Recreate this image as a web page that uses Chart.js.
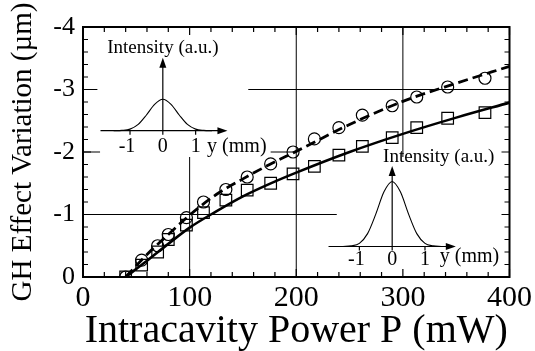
<!DOCTYPE html>
<html>
<head>
<meta charset="utf-8">
<script src="https://cdn.jsdelivr.net/npm/chart.js@4.4.1/dist/chart.umd.min.js"></script>
<style>
  html, body { margin: 0; padding: 0; background: #fff; }
  #wrap { width: 535px; height: 351px; }
</style>
</head>
<body>
<div id="wrap"><canvas id="chart" width="535" height="351"></canvas></div>
<script>
// measured GH shift vs intracavity power (shift is negative, plotted upward)
const powerMw = [40, 55, 70, 80, 97, 113, 134, 154, 176, 197, 217, 240, 262, 290, 313, 342, 377];
const circleShift = [0, -0.27, -0.50, -0.68, -0.95, -1.20, -1.40, -1.60, -1.81, -2.00, -2.21, -2.39, -2.59, -2.74, -2.88, -3.04, -3.18];
const squareShift = [0, -0.19, -0.40, -0.60, -0.83, -1.03, -1.23, -1.39, -1.50, -1.65, -1.77, -1.95, -2.09, -2.23, -2.39, -2.54, -2.63];

// fitted curves
const fitPowerMw = [40, 60, 80, 100, 125, 150, 175, 200, 250, 300, 350, 400];
const dashedFit = [0, -0.36, -0.68, -0.99, -1.32, -1.57, -1.80, -2.01, -2.44, -2.81, -3.10, -3.37];
const solidFit = [0, -0.26, -0.53, -0.79, -1.05, -1.29, -1.49, -1.67, -2.00, -2.29, -2.55, -2.79];

// axis ticks
const xTickValues = [0, 100, 200, 300, 400];
const xTickLabels = ['0', '100', '200', '300', '400'];
const yTickValues = [0, -1, -2, -3, -4];
const yTickLabels = ['0', '-1', '-2', '-3', '-4'];

// inset beam profiles (y in mm, intensity in a.u.)
const profileY = [-1.5, -1.25, -1, -0.75, -0.5, -0.25, 0, 0.25, 0.5, 0.75, 1, 1.25, 1.5];
const profileLow = [0, 0.01, 0.05, 0.2, 0.5, 0.84, 1, 0.84, 0.5, 0.2, 0.05, 0.01, 0];
const profileHigh = [0, 0.02, 0.1, 0.41, 1.03, 1.74, 2.07, 1.74, 1.03, 0.41, 0.1, 0.02, 0];
const insetTicks = [-1, 0, 1];
const insetTickLabels = ['-1', '0', '1'];

const SERIF = '"Liberation Serif", "Times New Roman", serif';
const pts = (xs, ys) => xs.map((x, i) => ({ x: x, y: ys[i] }));

// grid lines are interrupted by the insets in the original
const gridSegments = [
    { dir: 'h', at: -1, from: 0, to: 238 },
    { dir: 'h', at: -2, from: 0, to: 16 },
    { dir: 'h', at: -2, from: 176, to: 200 },
    { dir: 'h', at: -3, from: 0, to: 13.5 },
    { dir: 'h', at: -3, from: 155, to: 400 },
    { dir: 'v', at: 100, from: 0, to: -1.92 },
    { dir: 'v', at: 200, from: 0, to: -4 },
    { dir: 'v', at: 300, from: -1.92, to: -4 }
];

function arrowHead(ctx, x, y, dir) {
    ctx.beginPath();
    if (dir === 'right') {
        ctx.moveTo(x, y);
        ctx.lineTo(x - 10, y - 3.5);
        ctx.lineTo(x - 10, y + 3.5);
    } else {
        ctx.moveTo(x, y);
        ctx.lineTo(x - 3.5, y + 10);
        ctx.lineTo(x + 3.5, y + 10);
    }
    ctx.closePath();
    ctx.fill();
}

function drawInset(chart, o) {
    const ctx = chart.ctx;
    const sx = chart.scales[o.xId], sy = chart.scales[o.yId];
    const X = v => sx.getPixelForValue(v), Y = v => sy.getPixelForValue(v);
    ctx.save();
    ctx.strokeStyle = '#000';
    ctx.fillStyle = '#000';
    ctx.lineWidth = 1.2;
    // horizontal axis
    ctx.beginPath();
    ctx.moveTo(X(o.xFrom), Y(0));
    ctx.lineTo(X(o.xTo) - 6, Y(0));
    ctx.stroke();
    arrowHead(ctx, X(o.xTo), Y(0), 'right');
    // vertical axis
    ctx.beginPath();
    ctx.moveTo(X(0), Y(0));
    ctx.lineTo(X(0), Y(o.yTo) + 6);
    ctx.stroke();
    arrowHead(ctx, X(0), Y(o.yTo), 'up');
    // small ticks
    insetTicks.forEach(t => {
        ctx.beginPath();
        ctx.moveTo(X(t), Y(0));
        ctx.lineTo(X(t), Y(0) + 4);
        ctx.stroke();
    });
    ctx.font = '20px ' + SERIF;
    ctx.textBaseline = 'middle';
    ctx.textAlign = 'center';
    insetTicks.forEach((t, i) => {
        ctx.fillText(insetTickLabels[i], X(t) + (t < 0 ? -3 : 0), Y(o.tickLabelY));
    });
    ctx.textAlign = 'left';
    ctx.fillText('y (mm)', X(o.unitX), Y(o.unitY));
    ctx.font = '19px ' + SERIF;
    ctx.textAlign = 'center';
    ctx.fillText('Intensity (a.u.)', X(o.titleX), Y(o.titleY));
    ctx.restore();
}

const framePlugin = {
    id: 'frame',
    beforeDatasetsDraw(chart) {
        const ctx = chart.ctx;
        const x = chart.scales.x, y = chart.scales.y;
        ctx.save();
        ctx.strokeStyle = '#000';
        ctx.lineWidth = 1;
        gridSegments.forEach(s => {
            ctx.beginPath();
            if (s.dir === 'h') {
                ctx.moveTo(x.getPixelForValue(s.from), y.getPixelForValue(s.at));
                ctx.lineTo(x.getPixelForValue(s.to), y.getPixelForValue(s.at));
            } else {
                ctx.moveTo(x.getPixelForValue(s.at), y.getPixelForValue(s.from));
                ctx.lineTo(x.getPixelForValue(s.at), y.getPixelForValue(s.to));
            }
            ctx.stroke();
        });
        ctx.restore();
    },
    afterDatasetsDraw(chart) {
        const ctx = chart.ctx;
        const a = chart.chartArea;
        const x = chart.scales.x, y = chart.scales.y;
        ctx.save();
        ctx.strokeStyle = '#000';
        ctx.lineWidth = 1.2;
        // minor/major ticks pointing inward on all four sides
        for (let v = 0; v <= 400; v += 20) {
            const px = x.getPixelForValue(v);
            const len = v % 100 === 0 ? 8 : 5;
            ctx.beginPath();
            ctx.moveTo(px, a.bottom); ctx.lineTo(px, a.bottom - len);
            ctx.moveTo(px, a.top); ctx.lineTo(px, a.top + len);
            ctx.stroke();
        }
        for (let k = 0; k <= 20; k++) {
            const v = -k * 0.2;
            const py = y.getPixelForValue(v);
            const len = k % 5 === 0 ? 8 : 5;
            ctx.beginPath();
            ctx.moveTo(a.left, py); ctx.lineTo(a.left + len, py);
            ctx.moveTo(a.right, py); ctx.lineTo(a.right - len, py);
            ctx.stroke();
        }
        ctx.lineWidth = 2;
        ctx.strokeRect(a.left, a.top, a.right - a.left, a.bottom - a.top);
        ctx.restore();

        drawInset(chart, {
            xId: 'ix1', yId: 'iy1', xFrom: -1.9, xTo: 1.97, yTo: 2.32,
            tickLabelY: -0.5, unitX: 1.35, unitY: -0.5, titleX: 0, titleY: 2.63
        });
        drawInset(chart, {
            xId: 'ix2', yId: 'iy2', xFrom: -1.94, xTo: 1.94, yTo: 2.56,
            tickLabelY: -0.43, unitX: 1.45, unitY: -0.33, titleX: 1.42, titleY: 2.85
        });
    }
};

const ctx = document.getElementById('chart').getContext('2d');
new Chart(ctx, {
    type: 'scatter',
    data: {
        datasets: [
            {
                label: 'dashed fit',
                data: pts(fitPowerMw, dashedFit),
                showLine: true,
                borderColor: '#000',
                borderWidth: 2.8,
                borderDash: [10, 5],
                pointRadius: 0,
                cubicInterpolationMode: 'monotone',
                xAxisID: 'x', yAxisID: 'y'
            },
            {
                label: 'solid fit',
                data: pts(fitPowerMw, solidFit),
                showLine: true,
                borderColor: '#000',
                borderWidth: 2.6,
                pointRadius: 0,
                cubicInterpolationMode: 'monotone',
                xAxisID: 'x', yAxisID: 'y'
            },
            {
                label: 'circles',
                data: pts(powerMw, circleShift),
                showLine: false,
                pointStyle: 'circle',
                pointRadius: 6,
                pointBorderWidth: 1.2,
                pointBorderColor: '#000',
                pointBackgroundColor: 'rgba(0,0,0,0)',
                xAxisID: 'x', yAxisID: 'y'
            },
            {
                label: 'squares',
                data: pts(powerMw, squareShift),
                showLine: false,
                pointStyle: 'rect',
                pointRadius: 8.2,
                pointBorderWidth: 1.2,
                pointBorderColor: '#000',
                pointBackgroundColor: 'rgba(0,0,0,0)',
                xAxisID: 'x', yAxisID: 'y'
            },
            {
                label: 'profile low',
                data: pts(profileY, profileLow),
                showLine: true,
                borderColor: '#000',
                borderWidth: 1.1,
                pointRadius: 0,
                cubicInterpolationMode: 'monotone',
                xAxisID: 'ix1', yAxisID: 'iy1'
            },
            {
                label: 'profile high',
                data: pts(profileY, profileHigh),
                showLine: true,
                borderColor: '#000',
                borderWidth: 1.1,
                pointRadius: 0,
                cubicInterpolationMode: 'monotone',
                xAxisID: 'ix2', yAxisID: 'iy2'
            }
        ]
    },
    options: {
        responsive: false,
        animation: false,
        devicePixelRatio: 1,
        layout: { padding: { left: 0, top: 27, right: 23, bottom: 0 } },
        plugins: {
            legend: { display: false },
            tooltip: { enabled: false }
        },
        scales: {
            x: {
                type: 'linear',
                position: 'bottom',
                min: 0,
                max: 400,
                afterFit(scale) { scale.height = 74; },
                afterBuildTicks(scale) { scale.ticks = xTickValues.map(v => ({ value: v })); },
                grid: { display: false, drawTicks: false },
                border: { display: false },
                ticks: {
                    autoSkip: false,
                    maxRotation: 0,
                    padding: 3,
                    color: '#000',
                    font: { family: SERIF, size: 30 },
                    callback: (v) => xTickLabels[xTickValues.indexOf(v)]
                },
                title: {
                    display: true,
                    text: 'Intracavity Power P (mW)',
                    color: '#000',
                    font: { family: SERIF, size: 40, lineHeight: 1.0 },
                    padding: { top: 0, bottom: 0 }
                }
            },
            y: {
                type: 'linear',
                position: 'left',
                min: -4,
                max: 0,
                reverse: true,
                afterFit(scale) { scale.width = 83; },
                afterBuildTicks(scale) { scale.ticks = yTickValues.map(v => ({ value: v })); },
                grid: { display: false, drawTicks: false },
                border: { display: false },
                ticks: {
                    padding: 8,
                    color: '#000',
                    font: { family: SERIF, size: 26 },
                    callback: (v) => yTickLabels[yTickValues.indexOf(v)]
                },
                title: {
                    display: true,
                    text: 'GH Effect Variation (µm)',
                    color: '#000',
                    font: { family: SERIF, size: 29 },
                    padding: { top: 6, bottom: 0 }
                }
            },
            ix1: { axis: 'x', type: 'linear', position: 'bottom', display: false, min: -2.433, max: 10.567 },
            iy1: { axis: 'y', type: 'linear', position: 'left', display: false, min: -4.659, max: 3.303 },
            ix2: { axis: 'x', type: 'linear', position: 'bottom', display: false, min: -9.424, max: 3.576 },
            iy2: { axis: 'y', type: 'linear', position: 'left', display: false, min: -0.971, max: 6.990 }
        }
    },
    plugins: [framePlugin]
});
</script>
</body>
</html>
